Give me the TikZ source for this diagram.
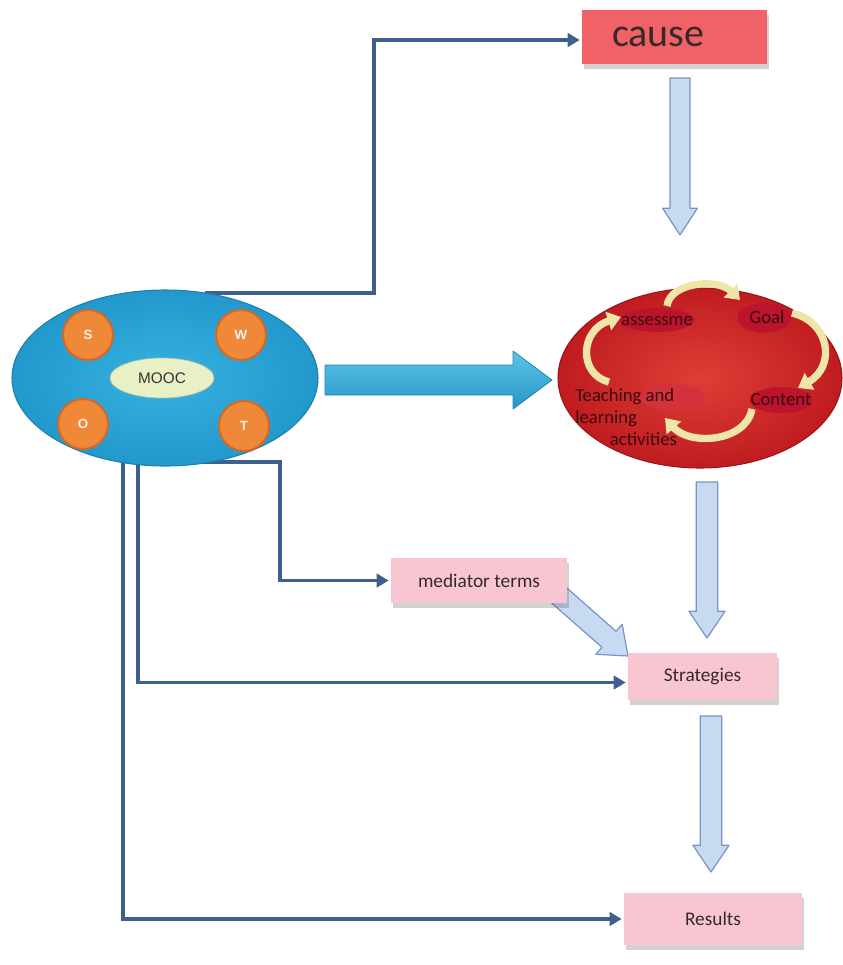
\documentclass[tikz,border=0pt]{standalone}
\usepackage{fontspec}
\setmainfont{Carlito}
\newfontfamily\arialf{Liberation Sans}
\usetikzlibrary{calc,shadows,arrows.meta,shapes.geometric}
\pgfdeclarelayer{bg}
\pgfsetlayers{bg,main}
\definecolor{causeC}{RGB}{240,98,104}
\definecolor{pinkC}{RGB}{248,198,208}
\definecolor{txtC}{RGB}{55,40,42}
\definecolor{connC}{RGB}{62,96,140}
\definecolor{lbC}{RGB}{200,218,242}
\definecolor{lbD}{RGB}{118,148,196}
\definecolor{cyanA}{RGB}{92,196,230}
\definecolor{cyanB}{RGB}{38,150,200}
\definecolor{blueIn}{RGB}{54,178,226}
\definecolor{blueOut}{RGB}{34,152,204}
\definecolor{orangeC}{RGB}{240,136,58}
\definecolor{orangeD}{RGB}{214,104,34}
\definecolor{moocC}{RGB}{232,240,198}
\definecolor{redIn}{RGB}{222,62,54}
\definecolor{redOut}{RGB}{192,28,32}
\definecolor{subC}{RGB}{188,20,44}
\definecolor{subT}{RGB}{210,50,60}
\definecolor{yelC}{RGB}{238,230,168}
\definecolor{redTxt}{RGB}{60,10,14}
\newcommand\blockarr[6]{% #1 start, #2 end, #3 shaft half, #4 head half, #5 head len, #6 style
  \draw[#6] ($#1!#3!90:#2$) -- ($($#2!#5!#1$)!#3!90:#2$) -- ($($#2!#5!#1$)!#4!90:#2$) -- #2
    -- ($($#2!#5!#1$)!#4!-90:#2$) -- ($($#2!#5!#1$)!#3!-90:#2$) -- ($#1!#3!-90:#2$) -- cycle;
}
\begin{document}
\begin{tikzpicture}[x=0.75pt,y=-0.75pt,
  conn/.style={draw=connC, line width=2.6pt, shorten >=1.5pt, -{Triangle[length=9pt,width=10pt]}},
  boxshadow/.style={drop shadow={shadow xshift=1.5pt, shadow yshift=-3.5pt, opacity=0.25, fill=black!70}},
  pinkbox/.style={rectangle, fill=pinkC, text=txtC, inner sep=0pt, boxshadow,
     font=\fontsize{14.5}{17}\selectfont},
  lightarr/.style={fill=lbC, draw=lbD, line width=0.9pt, line join=round},
  orb/.style={circle, minimum size=37.5pt, inner sep=0pt, fill=orangeC, draw=orangeD, line width=1.5pt,
     text=white!88!orangeC, font=\arialf\bfseries\fontsize{10}{12}\selectfont},
  subell/.style={ellipse, inner sep=0pt, fill=subC, draw=none},
  redlbl/.style={text=redTxt, font=\fontsize{14}{16}\selectfont},
  cyc/.style={draw=yelC, line width=5.5pt, -{Triangle[length=10pt,width=14pt]}, line cap=butt}
]
\useasboundingbox (0,0) rectangle (843,965);

% boxes
\node[rectangle, fill=causeC, boxshadow, inner xsep=22.5pt, inner ysep=0pt,
  text width=93.75pt, align=left, minimum height=40.5pt, text=txtC,
  font=\fontsize{30}{34}\selectfont] (cause) at (674.5,37) {cause};
\node[pinkbox, minimum width=132pt, minimum height=33.75pt] (mediator) at (479,580.5) {mediator terms};
\node[pinkbox, minimum width=111.75pt, minimum height=35.25pt] (strat) at (702.5,676.5) {Strategies};
\node[pinkbox, minimum width=133.5pt, minimum height=39pt] (results) at (713,919) {Results};

% SWOT ellipse
\node[ellipse, inner sep=0pt, minimum width=229.5pt, minimum height=132pt,
  inner color=blueIn, outer color=blueOut, draw=blueOut!85!black, line width=0.8pt] (moocE) at (165,378) {};
\node[orb] (S) at (88,335) {S};
\node[orb] (W) at (241,335) {W};
\node[orb] (O) at (83,424) {O};
\node[orb] (T) at (244,426) {T};
\node[ellipse, inner sep=0pt, minimum width=78pt, minimum height=30pt, fill=moocC, draw=moocC!80!black,
  line width=0.5pt, font=\arialf\fontsize{11.5}{13}\selectfont, text=black!80] (mooc) at (162,378) {MOOC};

% red cycle ellipse
\node[ellipse, inner sep=0pt, minimum width=213pt, minimum height=135pt,
  inner color=redIn, outer color=redOut, draw=redOut!80!black, line width=0.8pt] (redE) at (700,378) {};
\node[subell, minimum width=56pt, minimum height=18pt] (assessE) at (657,320) {};
\node[subell, minimum width=40pt, minimum height=22pt] (goalE) at (764,318) {};
\node[subell, minimum width=47pt, minimum height=19.5pt] (contentE) at (781,400) {};
\node[ellipse, inner sep=0pt, fill=subT, minimum width=49pt, minimum height=19pt] (teachE) at (672,397) {};
\node[redlbl, inner sep=0pt] (assess) at (657,321) {assessme};
\node[redlbl, inner sep=0pt] (goal) at (767,317) {Goal};
\node[redlbl, inner sep=0pt] (content) at (781,400) {Content};
\node[redlbl, inner sep=0pt, anchor=north west, align=left,
  font=\fontsize{14}{16.5}\selectfont] (teach) at (575,388) {Teaching and\\learning\\\hspace*{26pt}activities};

% cycle arrows
\draw[cyc] (667,306) .. controls (670,282) and (718,278) .. (740,300);
\draw[cyc] (792,313) .. controls (830,322) and (836,366) .. (798,388);
\draw[cyc] (752,409) .. controls (746,442) and (690,446) .. (665,418);
\draw[cyc] (609,382) .. controls (578,374) and (580,330) .. (621,317);

% named free ends
\coordinate (s1) at (205,293);
\coordinate (j1) at (374,150);
\coordinate (s2) at (200,462);
\coordinate (j2) at (280,520);
\coordinate (s3) at (138,420);
\coordinate (s4) at (123,420);
\coordinate (b1) at (325,380);
\coordinate (b2) at (552,380);
\coordinate (a1s) at (680,78);
\coordinate (a1e) at (680,235);
\coordinate (a2s) at (707,482);
\coordinate (a2e) at (707,638);
\coordinate (a3s) at (711,716);
\coordinate (a3e) at (711,872);
\coordinate (a4s) at (553,590);
\coordinate (a4e) at (628,656);

\begin{pgfonlayer}{bg}
\draw[conn] (s1) -| (j1) |- ([yshift=-2.25pt]cause.west);
\draw[conn] (s2) -| (j2) |- (mediator.west);
\draw[conn] (s3) |- ([yshift=-4.5pt]strat.west);
\draw[conn] (s4) |- (results.west);
\blockarr{(b1)}{(b2)}{11.25pt}{21.75pt}{29.25pt}{top color=cyanA, bottom color=cyanB, draw=cyanB!90!black, line width=0.6pt, line join=round}
\blockarr{(a1s)}{(a1e)}{7.5pt}{13pt}{20pt}{lightarr}
\blockarr{(a2s)}{(a2e)}{8pt}{13.5pt}{20pt}{lightarr}
\blockarr{(a3s)}{(a3e)}{8pt}{13.5pt}{20pt}{lightarr}
\blockarr{(a4s)}{(a4e)}{8pt}{15pt}{19pt}{lightarr}
\end{pgfonlayer}
\end{tikzpicture}
\end{document}
